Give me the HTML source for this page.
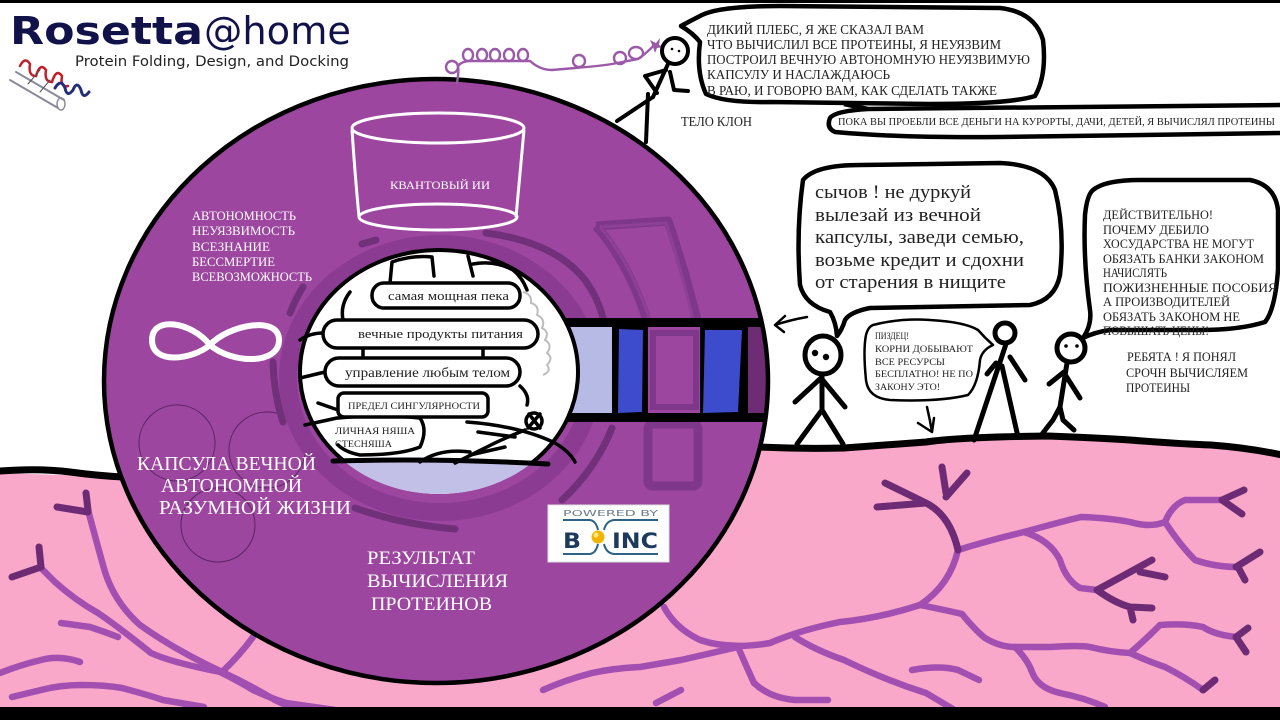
<!DOCTYPE html>
<html><head><meta charset="utf-8">
<style>
html,body{margin:0;padding:0;background:#fff;}
svg{display:block;}
text{font-family:"Liberation Serif","DejaVu Serif",serif;}
.sans{font-family:"DejaVu Sans","Liberation Sans",sans-serif;}
</style></head><body>
<svg width="1280" height="720" viewBox="0 0 1280 720" xmlns="http://www.w3.org/2000/svg">
<defs>
<clipPath id="outerC"><ellipse cx="436" cy="381" rx="331" ry="301"/></clipPath>
<clipPath id="innerC"><ellipse cx="439" cy="372" rx="139" ry="122"/></clipPath>
<clipPath id="upper"><rect x="0" y="0" width="1280" height="463"/></clipPath>
</defs>
<rect width="1280" height="720" fill="#fff"/>
<rect x="0" y="0" width="1280" height="3" fill="#000"/>

<!-- pink ground -->
<path d="M0,473 L125,477 L760,447 L844,448 L926,442 L1048,436 L1130,440 L1211,445 L1280,455 L1280,710 L0,710 Z" fill="#f9a8c9"/>

<!-- veins -->
<g fill="none" stroke="#a34fb1" stroke-width="6.5" stroke-linecap="round" stroke-linejoin="round">
  <path d="M88,510 Q96,540 103,565 Q112,600 140,625 Q175,650 222,672 Q250,685 275,700 L292,708"/>
  <path d="M222,672 Q240,655 253,637"/>
  <path d="M41,568 L55,582 Q75,600 98,613 Q120,628 151,653 Q170,662 220,672"/>
  <path d="M61,623 L90,627 Q105,632 118,637"/>
  <path d="M0,673 Q20,665 41,660 Q60,655 80,662"/>
  <path d="M12,697 L41,690 Q60,685 82,685 Q105,685 122,688 Q145,694 163,700 L204,707"/>
  <path d="M220,672 Q240,682 253,690 Q270,698 286,703 L335,710"/>
  <path d="M543,690 Q565,680 592,673 Q615,668 640,667 L681,660 L738,647"/>
  <path d="M681,690 L656,703"/>
  <path d="M958,550 Q950,585 920,605 Q880,618 840,622 Q800,630 770,643 Q730,650 700,640 Q675,628 664,607"/>
  <path d="M958,550 Q990,540 1024,532 Q1060,522 1081,517 Q1110,518 1130,522 Q1150,528 1165,522 Q1172,505 1185,500 L1225,500"/>
  <path d="M1165,522 Q1180,545 1195,560 Q1215,567 1238,567"/>
  <path d="M1024,532 Q1050,540 1060,560 Q1066,580 1080,588 L1097,590"/>
  <path d="M920,605 Q945,610 962,614 Q975,630 985,638 Q1000,647 1015,647 L1050,647 Q1080,645 1090,647 Q1110,652 1130,653 Q1145,640 1160,625 Q1185,623 1203,627 Q1215,635 1236,637"/>
  <path d="M1130,653 Q1150,662 1165,667 Q1185,677 1203,690"/>
  <path d="M1015,647 Q1028,660 1032,672 Q1038,688 1060,693 Q1085,698 1105,707"/>
  <path d="M912,670 Q940,665 958,670 L979,680"/>
  <path d="M795,637 Q815,650 844,660 Q885,680 926,693 L958,712"/>
  <path d="M738,647 Q748,670 754,683 Q770,698 795,700 L828,700"/>
</g>
<g fill="none" stroke="#6d2b75" stroke-width="7" stroke-linecap="round" stroke-linejoin="round">
  <path d="M86,493 L88,510 M57,507 L88,512"/>
  <path d="M39,547 L41,567 L12,577"/>
  <path d="M942,467 L946,493 M967,473 L946,497 M885,483 L926,503 M877,507 L926,503 M926,503 Q950,515 958,550"/>
  <path d="M1222,500 L1244,490 M1222,500 L1242,514"/>
  <path d="M1236,567 L1260,552 M1238,567 L1245,580"/>
  <path d="M1097,590 Q1125,575 1152,560 M1140,572 L1165,577 M1097,590 Q1115,603 1130,607 L1152,608 M1130,607 L1133,620"/>
  <path d="M1236,637 L1248,628 M1236,637 L1246,652"/>
  <path d="M1203,690 L1215,680"/>
</g>

<!-- ground lines -->
<path d="M0,471 Q40,468 70,472 Q100,476 124,477" fill="none" stroke="#000" stroke-width="7" stroke-linecap="round"/>
<path d="M758,447 Q800,449 844,448 Q900,444 926,442 Q960,437 1048,436 Q1100,438 1130,440 Q1180,444 1211,445 Q1250,448 1282,455" fill="none" stroke="#000" stroke-width="7"/>

<!-- main capsule ring -->
<ellipse cx="436" cy="381" rx="332" ry="302" fill="#9c46a0"/>

<!-- thin circles -->
<g fill="none" stroke="#5a2462" stroke-width="1">
  <circle cx="177" cy="443" r="38"/>
  <circle cx="267" cy="450" r="38"/>
  <circle cx="218" cy="525" r="37"/>
</g>

<!-- dark band around inner -->
<ellipse cx="440" cy="378" rx="152" ry="134" fill="none" stroke="#8b3c92" stroke-width="18"/>

<!-- dashed ring -->
<g fill="none" stroke="#70307a" stroke-width="7" stroke-linecap="round">
  <path d="M290,313 Q296,298 303,287"/>
  <path d="M362,244 L376,240"/>
  <path d="M486,233 Q555,242 585,280 Q598,298 603,318"/>
  <path d="M273,362 Q274,395 283,422"/>
  <path d="M355,508 Q400,524 455,529"/>
  <path d="M562,500 Q595,470 612,428"/>
</g>

<!-- doorway frames -->
<g fill="none" stroke="#7e378a" stroke-width="9" stroke-linejoin="round">
  <path d="M596,226 L668,221 Q684,268 697,320 M596,226 Q628,262 647,320"/>
  <rect x="648" y="424" width="50" height="62" rx="5"/>
</g>
<g fill="none" stroke="#8d4096" stroke-width="3">
  <path d="M600,227 L666,223 Q681,268 693,320 M600,227 Q630,262 650,320"/>
</g>

<!-- tunnel -->
<g clip-path="url(#outerC)">
  <rect x="560" y="318" width="215" height="104" fill="#000"/>
  <rect x="560" y="327" width="52" height="86" fill="#b8bae6"/>
  <polygon points="619,329 643,330 642,412 618,413" fill="#3c4ccc"/>
  <rect x="648" y="327" width="52" height="86" fill="#9c46a0"/>
  <rect x="653" y="333" width="43" height="74" fill="none" stroke="#7e378a" stroke-width="6"/>
  <polygon points="705,330 742,330 738,412 703,413" fill="#3c4ccc"/>
  <rect x="748" y="327" width="30" height="86" fill="#6e2c74"/>
</g>

<!-- outer circle outline -->
<ellipse cx="436" cy="381" rx="332" ry="302" fill="none" stroke="#000" stroke-width="4.5"/>

<!-- inner circle -->
<ellipse cx="439" cy="372" rx="139" ry="122" fill="#fff"/>
<g clip-path="url(#innerC)">
  <rect x="290" y="462" width="300" height="40" fill="#c3c0e8"/>
</g>
<ellipse cx="439" cy="372" rx="139" ry="122" fill="none" stroke="#000" stroke-width="4" clip-path="url(#upper)"/>

<!-- brain drawing -->
<g fill="none" stroke="#bdbdbd" stroke-width="2">
  <path d="M523,292 q9,2 8,11 q9,3 6,12 q9,4 5,13 q8,4 3,12 q8,5 2,13 q7,5 0,12 q5,6 -4,10"/>
</g>
<g fill="none" stroke="#000" stroke-width="3.5" stroke-linecap="round" stroke-linejoin="round">
  <path d="M390,283 L392,262 Q412,255 432,257 L434,276"/>
  <path d="M468,256 L473,276"/>
  <path d="M473,264 Q495,260 513,270 Q522,277 527,290"/>
  <path d="M350,292 Q340,305 343,320"/>
  <path d="M300,340 Q310,333 323,333"/>
  <path d="M363,348 L363,358 M483,348 L483,358"/>
  <path d="M300,378 L325,372"/>
  <path d="M318,403 L338,410"/>
  <path d="M305,425 L337,418"/>
  <path d="M338,418 Q380,414 420,418 Q428,430 420,447 Q400,455 360,455 Q345,452 338,445"/>
  <path d="M467,422 Q520,426 555,443 Q570,452 575,462"/>
  <path d="M520,386 Q530,395 527,405"/>
  <path d="M525,430 Q500,440 485,448 L455,463"/>
  <path d="M478,432 L515,437"/>
  <path d="M470,455 L505,447"/>
  <path d="M420,462 Q440,448 470,452"/>
  <circle cx="534" cy="421" r="8"/>
  <path d="M529,414 L540,428 M540,414 L528,428"/>
</g>
<path d="M333,461 Q440,458 548,464" fill="none" stroke="#000" stroke-width="5" stroke-linecap="round"/>
<g fill="#fff" stroke="#000" stroke-width="3.5">
  <rect x="372" y="283" width="148" height="25" rx="12"/>
  <rect x="323" y="320" width="215" height="28" rx="14"/>
  <rect x="325" y="358" width="195" height="28" rx="14"/>
  <rect x="338" y="393" width="150" height="24" rx="6"/>
</g>
<g fill="#222">
  <text x="388" y="300" font-size="12.5" textLength="121" lengthAdjust="spacingAndGlyphs">самая мощная пека</text>
  <text x="358" y="338" font-size="13" textLength="165" lengthAdjust="spacingAndGlyphs">вечные продукты питания</text>
  <text x="345" y="377" font-size="14" textLength="165" lengthAdjust="spacingAndGlyphs">управление любым телом</text>
  <text x="348" y="409" font-size="9.5" textLength="132" lengthAdjust="spacingAndGlyphs">ПРЕДЕЛ СИНГУЛЯРНОСТИ</text>
  <text x="335" y="434" font-size="9" textLength="80" lengthAdjust="spacingAndGlyphs">ЛИЧНАЯ НЯША</text>
  <text x="335" y="447" font-size="9" textLength="57" lengthAdjust="spacingAndGlyphs">СТЕСНЯША</text>
</g>

<!-- cylinder -->
<g fill="none" stroke="#fff" stroke-width="3">
  <ellipse cx="438" cy="128" rx="86" ry="15"/>
  <path d="M352,130 Q355,175 359,217 M524,130 Q520,175 516,217"/>
  <ellipse cx="438" cy="217" rx="79" ry="13"/>
</g>
<text x="390" y="189" font-size="12" fill="#fff" textLength="100" lengthAdjust="spacingAndGlyphs">КВАНТОВЫЙ ИИ</text>

<!-- left list -->
<g fill="#fff" font-size="13">
  <text x="192" y="220" textLength="104" lengthAdjust="spacingAndGlyphs">АВТОНОМНОСТЬ</text>
  <text x="192" y="235" textLength="103" lengthAdjust="spacingAndGlyphs">НЕУЯЗВИМОСТЬ</text>
  <text x="192" y="251" textLength="78" lengthAdjust="spacingAndGlyphs">ВСЕЗНАНИЕ</text>
  <text x="192" y="266" textLength="83" lengthAdjust="spacingAndGlyphs">БЕССМЕРТИЕ</text>
  <text x="192" y="281" textLength="120" lengthAdjust="spacingAndGlyphs">ВСЕВОЗМОЖНОСТЬ</text>
</g>

<!-- infinity -->
<path d="M210,345 C192,322 152,315 152,340 C152,365 192,360 210,345 C228,325 279,315 279,340 C279,365 232,364 210,345 Z" fill="none" stroke="#fff" stroke-width="6" stroke-linejoin="round"/>

<!-- big labels -->
<g fill="#fff" font-size="20">
  <text x="137" y="470" textLength="179" lengthAdjust="spacingAndGlyphs">КАПСУЛА ВЕЧНОЙ</text>
  <text x="161" y="492" textLength="141" lengthAdjust="spacingAndGlyphs">АВТОНОМНОЙ</text>
  <text x="159" y="514" textLength="192" lengthAdjust="spacingAndGlyphs">РАЗУМНОЙ ЖИЗНИ</text>
</g>
<g fill="#fff" font-size="19">
  <text x="367" y="564" textLength="108" lengthAdjust="spacingAndGlyphs">РЕЗУЛЬТАТ</text>
  <text x="367" y="587" textLength="141" lengthAdjust="spacingAndGlyphs">ВЫЧИСЛЕНИЯ</text>
  <text x="371" y="610" textLength="121" lengthAdjust="spacingAndGlyphs">ПРОТЕИНОВ</text>
</g>

<!-- BOINC logo -->
<rect x="548" y="505" width="121" height="57" fill="#fff" stroke="#ddd" stroke-width="1"/>
<text x="563" y="516" class="sans" font-size="8" fill="#6b7a8a" textLength="95" lengthAdjust="spacingAndGlyphs">POWERED BY</text>
<g fill="none" stroke="#2f6386" stroke-width="2">
  <path d="M563,520 L590,520 Q596,521 598,530 M604,530 Q606,521 614,520 L658,520"/>
  <path d="M563,554 L590,554 Q596,553 598,544 M604,544 Q606,553 614,554 L658,554"/>
</g>
<text x="563" y="548" class="sans" font-size="21" font-weight="bold" fill="#1d3a5c" textLength="18" lengthAdjust="spacingAndGlyphs">B</text>
<circle cx="598" cy="537" r="6.5" fill="#f1b400"/>
<circle cx="596" cy="535" r="2.5" fill="#ffe680"/>
<text x="612" y="548" class="sans" font-size="21" font-weight="bold" fill="#1d3a5c" textLength="46" lengthAdjust="spacingAndGlyphs">INC</text>

<!-- Rosetta logo -->
<text x="10" y="44" class="sans" font-size="38" font-weight="bold" fill="#12124a" textLength="193" lengthAdjust="spacingAndGlyphs">Rosetta</text>
<text x="204" y="44" class="sans" font-size="38" fill="#12124a" textLength="147" lengthAdjust="spacingAndGlyphs">@home</text>
<text x="75" y="66" class="sans" font-size="14" fill="#222" textLength="274" lengthAdjust="spacingAndGlyphs">Protein Folding, Design, and Docking</text>
<g fill="none" stroke-linecap="round">
  <path d="M10,80 L58,108 M16,72 L64,100" stroke="#8a8a9a" stroke-width="2"/>
  <ellipse cx="61" cy="104" rx="4" ry="6" stroke="#8a8a9a" stroke-width="1.5"/>
  <path d="M20,66 q5,-10 10,-2 q-2,12 6,12 q4,-14 10,-6 q-2,12 6,12 q4,-14 10,-6 q-2,12 6,10" stroke="#c0202a" stroke-width="2.5"/>
  <path d="M55,88 q6,-10 10,0 q2,10 8,2 q4,-10 8,0 q2,10 8,2" stroke="#232f7a" stroke-width="3"/>
  <path d="M28,84 L40,70 M40,92 L50,80" stroke="#555" stroke-width="1"/>
</g>

<!-- cord -->
<g fill="none" stroke="#9b5aa8" stroke-width="2.4" stroke-linecap="round">
  <path d="M457,83 Q459,72 458,66 Q462,61 470,61 L530,61 Q540,70 552,70 L575,68 Q600,66 612,64 L638,59 Q648,52 654,45"/>
  <ellipse cx="452" cy="67" rx="6" ry="6"/>
  <ellipse cx="468" cy="55" rx="5" ry="6"/>
  <ellipse cx="482" cy="55" rx="5" ry="6"/>
  <ellipse cx="495" cy="55" rx="5" ry="6"/>
  <ellipse cx="509" cy="55" rx="5" ry="6"/>
  <ellipse cx="523" cy="55" rx="5" ry="6"/>
  <ellipse cx="579" cy="61" rx="6" ry="6"/>
  <ellipse cx="620" cy="58" rx="6" ry="6"/>
  <ellipse cx="636" cy="53" rx="7" ry="6"/>
</g>
<path d="M650,40 L656,43 L660,38 L659,45 L664,47 L657,48 L655,53 L653,47 Z" fill="#9b5aa8"/>

<!-- top stickman -->
<g fill="none" stroke="#000" stroke-width="4" stroke-linecap="round" stroke-linejoin="round">
  <circle cx="675" cy="51" r="13" fill="#fff"/>
  <path d="M668,64 L653,97"/>
  <path d="M666,70 L645,76 L657,93"/>
  <path d="M670,72 L674,90 L688,91"/>
  <path d="M653,97 L617,121"/>
  <path d="M648,94 L646,142"/>
</g>
<circle cx="672" cy="49" r="1.3" fill="#000"/><circle cx="679" cy="51" r="1.3" fill="#000"/>

<!-- bubble 1 -->
<path d="M702,15 Q692,20 681,26 Q693,33 700,42 Q696,72 706,94 Q725,103 770,102 L930,104 Q1010,104 1035,96 Q1047,75 1043,40 Q1035,12 1000,8 L780,6 Q720,6 702,15 Z" fill="#fff" stroke="#000" stroke-width="4.5" stroke-linejoin="round"/>
<g fill="#222" font-size="13.5">
  <text x="707" y="34" textLength="217" lengthAdjust="spacingAndGlyphs">ДИКИЙ ПЛЕБС, Я ЖЕ СКАЗАЛ ВАМ</text>
  <text x="707" y="49" textLength="294" lengthAdjust="spacingAndGlyphs">ЧТО ВЫЧИСЛИЛ ВСЕ ПРОТЕИНЫ, Я НЕУЯЗВИМ</text>
  <text x="707" y="64" textLength="323" lengthAdjust="spacingAndGlyphs">ПОСТРОИЛ ВЕЧНУЮ АВТОНОМНУЮ НЕУЯЗВИМУЮ</text>
  <text x="707" y="79" textLength="183" lengthAdjust="spacingAndGlyphs">КАПСУЛУ И НАСЛАЖДАЮСЬ</text>
  <text x="707" y="95" textLength="290" lengthAdjust="spacingAndGlyphs">В РАЮ, И ГОВОРЮ ВАМ, КАК СДЕЛАТЬ ТАКЖЕ</text>
</g>
<text x="681" y="126" font-size="14" fill="#222" textLength="71" lengthAdjust="spacingAndGlyphs">ТЕЛО КЛОН</text>

<!-- bubble 2 -->
<path d="M844,104 L868,109 L1282,105 M868,109 Q835,111 830,118 Q826,128 835,132 Q900,138 1000,137 L1282,133" fill="none" stroke="#000" stroke-width="4.5" stroke-linejoin="round"/>
<text x="838" y="125" font-size="10" fill="#222" textLength="437" lengthAdjust="spacingAndGlyphs">ПОКА ВЫ ПРОЕБЛИ ВСЕ ДЕНЬГИ НА КУРОРТЫ, ДАЧИ, ДЕТЕЙ, Я ВЫЧИСЛЯЛ ПРОТЕИНЫ</text>

<!-- bubble 3 -->
<path d="M803,180 Q815,165 860,165 L1000,163 Q1045,165 1055,190 Q1065,230 1060,275 Q1055,300 1030,305 L870,308 Q850,312 845,320 Q842,330 837,336 Q836,322 830,312 Q805,305 800,285 Q796,230 803,180 Z" fill="#fff" stroke="#000" stroke-width="4.5" stroke-linejoin="round"/>
<g fill="#222" font-size="19">
  <text x="815" y="198" textLength="156" lengthAdjust="spacingAndGlyphs">сычов ! не дуркуй</text>
  <text x="815" y="221" textLength="166" lengthAdjust="spacingAndGlyphs">вылезай из вечной</text>
  <text x="815" y="243" textLength="209" lengthAdjust="spacingAndGlyphs">капсулы, заведи семью,</text>
  <text x="815" y="266" textLength="209" lengthAdjust="spacingAndGlyphs">возьме кредит и сдохни</text>
  <text x="815" y="288" textLength="191" lengthAdjust="spacingAndGlyphs">от старения в нищите</text>
</g>
<path d="M807,317 Q790,320 775,325 M775,325 L785,316 M775,325 L784,332" fill="none" stroke="#000" stroke-width="2.5" stroke-linecap="round"/>

<!-- bubble 4 -->
<path d="M1093,190 Q1105,180 1140,180 L1250,180 Q1275,185 1278,210 L1278,270 Q1275,310 1265,322 Q1240,330 1200,330 L1110,330 Q1095,332 1083,338 Q1092,325 1090,310 Q1083,260 1085,215 Q1087,195 1093,190 Z" fill="#fff" stroke="#000" stroke-width="4.5" stroke-linejoin="round"/>
<g fill="#222" font-size="12.5">
  <text x="1103" y="219" textLength="110" lengthAdjust="spacingAndGlyphs">ДЕЙСТВИТЕЛЬНО!</text>
  <text x="1103" y="234" textLength="106" lengthAdjust="spacingAndGlyphs">ПОЧЕМУ ДЕБИЛО</text>
  <text x="1103" y="248" textLength="151" lengthAdjust="spacingAndGlyphs">ХОСУДАРСТВА НЕ МОГУТ</text>
  <text x="1103" y="263" textLength="161" lengthAdjust="spacingAndGlyphs">ОБЯЗАТЬ БАНКИ ЗАКОНОМ</text>
  <text x="1103" y="277" textLength="64" lengthAdjust="spacingAndGlyphs">НАЧИСЛЯТЬ</text>
  <text x="1103" y="292" textLength="174" lengthAdjust="spacingAndGlyphs">ПОЖИЗНЕННЫЕ ПОСОБИЯ</text>
  <text x="1103" y="306" textLength="127" lengthAdjust="spacingAndGlyphs">А ПРОИЗВОДИТЕЛЕЙ</text>
  <text x="1103" y="321" textLength="137" lengthAdjust="spacingAndGlyphs">ОБЯЗАТЬ ЗАКОНОМ НЕ</text>
  <text x="1103" y="335" textLength="106" lengthAdjust="spacingAndGlyphs">ПОВЫШАТЬ ЦЕНЫ!</text>
  <text x="1127" y="361" textLength="109" lengthAdjust="spacingAndGlyphs">РЕБЯТА ! Я ПОНЯЛ</text>
  <text x="1126" y="377" textLength="122" lengthAdjust="spacingAndGlyphs">СРОЧН ВЫЧИСЛЯЕМ</text>
  <text x="1126" y="392" textLength="64" lengthAdjust="spacingAndGlyphs">ПРОТЕИНЫ</text>
</g>

<!-- bubble 5 -->
<path d="M873,325 Q900,318 930,320 Q965,322 978,330 Q985,338 993,345 Q982,350 980,360 Q978,385 968,395 Q940,402 890,400 Q868,398 866,380 Q863,350 866,335 Q868,327 873,325 Z" fill="#fff" stroke="#000" stroke-width="2.5" stroke-linejoin="round"/>
<g fill="#222" font-size="9.5">
  <text x="875" y="339" textLength="34" lengthAdjust="spacingAndGlyphs">ПИЗДЕЦ!</text>
  <text x="875" y="352" textLength="98" lengthAdjust="spacingAndGlyphs">КОРНИ ДОБЫВАЮТ</text>
  <text x="875" y="365" textLength="70" lengthAdjust="spacingAndGlyphs">ВСЕ РЕСУРСЫ</text>
  <text x="875" y="377" textLength="98" lengthAdjust="spacingAndGlyphs">БЕСПЛАТНО! НЕ ПО</text>
  <text x="875" y="390" textLength="65" lengthAdjust="spacingAndGlyphs">ЗАКОНУ ЭТО!</text>
</g>
<path d="M927,407 Q930,420 932,432 M918,423 L932,432 L934,418" fill="none" stroke="#000" stroke-width="2.5" stroke-linecap="round" stroke-linejoin="round"/>

<!-- stick figures -->
<g fill="none" stroke="#000" stroke-width="5" stroke-linecap="round" stroke-linejoin="round">
  <ellipse cx="823" cy="355" rx="18" ry="19" fill="#fff"/>
  <path d="M822,374 L822,410"/>
  <path d="M795,402 L821,378 L845,407"/>
  <path d="M822,410 L797,444 M822,410 L843,444"/>
  <circle cx="1005" cy="333" r="10" fill="#fff"/>
  <path d="M1006,344 L974,440"/>
  <path d="M1002,366 L1018,437"/>
  <path d="M996,363 L987,374"/>
  <path d="M1010,357 L1025,380"/>
  <circle cx="1071" cy="348" r="14" fill="#fff"/>
  <path d="M1067,363 L1060,407"/>
  <path d="M1064,372 L1049,384"/>
  <path d="M1066,376 L1080,398"/>
  <path d="M1060,407 L1053,420 Q1045,430 1040,437"/>
  <path d="M1060,407 L1063,420 L1074,430"/>
</g>
<g fill="#000">
  <circle cx="815" cy="353" r="3.2"/><circle cx="826" cy="357" r="3.2"/>
  <circle cx="1066" cy="346" r="1.8"/><circle cx="1077" cy="346" r="1.8"/>
</g>

<!-- bottom bar -->
<rect x="0" y="707" width="1280" height="13" fill="#000"/>
</svg>
</body></html>
